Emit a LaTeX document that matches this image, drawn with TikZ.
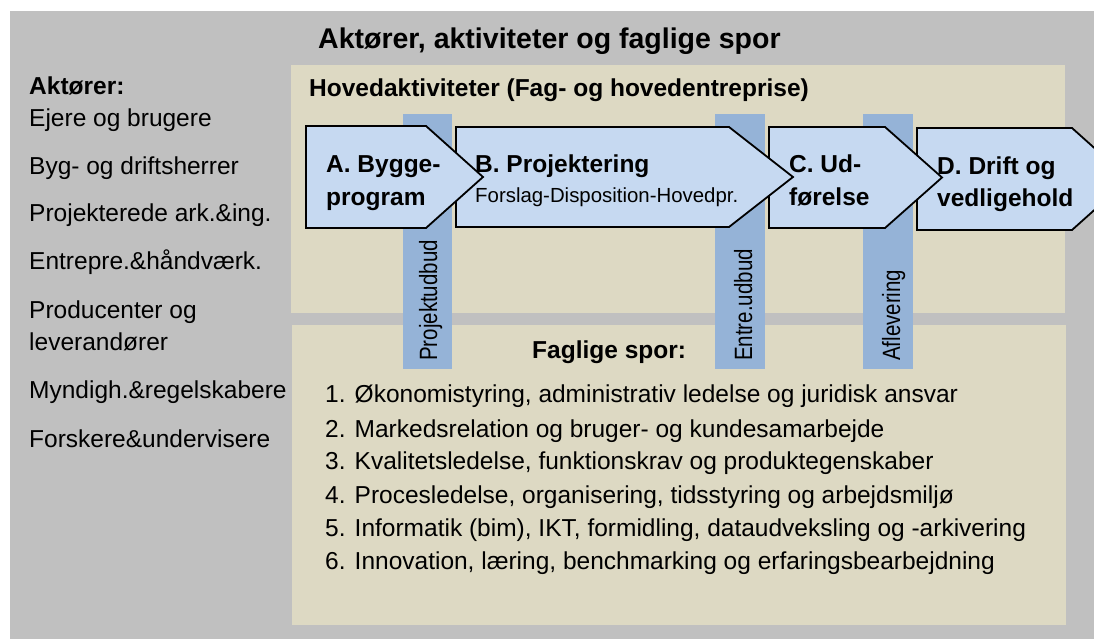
\documentclass[tikz,border=0pt]{standalone}
\usepackage{fontspec}
\setmainfont{Liberation Sans}
\usepackage{graphicx}
\definecolor{bggray}{HTML}{C0C0C0}
\definecolor{tanbg}{HTML}{DDD9C3}
\definecolor{stripblue}{HTML}{95B3D7}
\definecolor{chevblue}{HTML}{C6D9F1}

\begin{document}
\begin{tikzpicture}[x=1pt,y=-1pt,
  chevron/.style={fill=chevblue,draw=black,line width=1.8pt,line join=miter},
  txt/.style={anchor=base west,inner sep=0pt,font=\fontsize{24.5}{29}\selectfont},
  txtb/.style={txt,font=\fontsize{24.5}{29}\selectfont\bfseries},
  striptxt/.style={anchor=base west,inner sep=0pt,rotate=90,font=\fontsize{25}{29}\selectfont}]
\path[use as bounding box] (0,0) rectangle (1094,639);
\clip (0,0) rectangle (1094,639);

% background and panels
\fill[bggray] (10,11) rectangle (1100,645);
\fill[tanbg] (291,65) rectangle (1065,313);
\fill[tanbg] (292,325) rectangle (1066,625);

% milestone strips
\fill[stripblue] (403,114) rectangle (452,369);
\fill[stripblue] (715,114) rectangle (765,369);
\fill[stripblue] (863,114) rectangle (913,369);

% phases, last one first so each tip lies on top
\draw[chevron] (917,128) -- (1072,128) -- (1129,179) -- (1072,230) -- (917,230) -- cycle;
\draw[chevron] (769,127) -- (885,127) -- (942,177.5) -- (885,228) -- (769,228) -- cycle;
\draw[chevron] (456,127) -- (729,127) -- (793,177) -- (729,227) -- (456,227) -- cycle;
\draw[chevron] (306,126) -- (426,126) -- (483,177) -- (426,228) -- (306,228) -- cycle;

% headings
\node[txtb,font=\fontsize{28.5}{33}\selectfont\bfseries] (title) at (318,49) {Aktører, aktiviteter og faglige spor};
\node[txtb] (hoved) at (309,97) {Hovedaktiviteter (Fag- og hovedentreprise)};

% actors
\node[txtb] (akt) at (29,95) {Aktører:};
\node[txt] (akt1) at (29,127) {Ejere og brugere};
\node[txt] (akt2) at (29,175) {Byg- og driftsherrer};
\node[txt] (akt3) at (29,222) {Projekterede ark.\&ing.};
\node[txt] (akt4) at (29,269) {Entrepre.\&håndværk.};
\node[txt] (akt5) at (29,318) {Producenter og};
\node[txt] (akt5b) at (29,350) {leverandører};
\node[txt] (akt6) at (29,398) {Myndigh.\&regelskabere};
\node[txt] (akt7) at (29,447) {Forskere\&undervisere};

% phase labels
\node[txtb] (faseA) at (326,173) {A. Bygge-};
\node[txtb] (faseAb) at (326,205) {program};
\node[txtb] (faseB) at (475,173) {B. Projektering};
\node[txt,font=\fontsize{20.4}{24}\selectfont] (faseBb) at (475,202) {Forslag-Disposition-Hovedpr.};
\node[txtb] (faseC) at (789,173) {C. Ud-};
\node[txtb] (faseCb) at (789,205) {førelse};
\node[txtb] (faseD) at (937,175) {D. Drift og};
\node[txtb] (faseDb) at (937,207) {vedligehold};

% milestones
\node[striptxt] (projbud) at (437,361) {\scalebox{0.82}[1]{Projektudbud}};
\node[striptxt] (entrbud) at (752,361) {\scalebox{0.82}[1]{Entre.udbud}};
\node[striptxt] (aflev) at (900,361) {\scalebox{0.82}[1]{Aflevering}};

% tracks
\node[txtb] (spor) at (532,358) {Faglige spor:};
\node[txt] (spor1) at (325,402) {1. Økonomistyring, administrativ ledelse og juridisk ansvar};
\node[txt] (spor2) at (325,437) {2. Markedsrelation og bruger- og kundesamarbejde};
\node[txt] (spor3) at (325,469) {3. Kvalitetsledelse, funktionskrav og produktegenskaber};
\node[txt] (spor4) at (325,503) {4. Procesledelse, organisering, tidsstyring og arbejdsmiljø};
\node[txt] (spor5) at (325,536) {5. Informatik (bim), IKT, formidling, dataudveksling og -arkivering};
\node[txt] (spor6) at (325,569) {6. Innovation, læring, benchmarking og erfaringsbearbejdning};

\end{tikzpicture}
\end{document}
